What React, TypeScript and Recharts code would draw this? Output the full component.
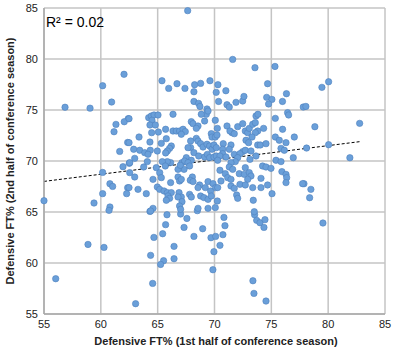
import { ScatterChart, Scatter, XAxis, YAxis, CartesianGrid, ReferenceLine, Label } from "recharts";

// Defensive FT% pairs: [1st half, 2nd half]
const upperPoints: [number, number][] = [
    [62.04, 78.5], [60.16, 77.38], [60.95, 75.78], [56.85, 75.27], [59.05, 75.18],
    [67.64, 84.74], [65.38, 77.87], [65.97, 77.12], [66.7, 77.58], [67.4, 77.12], [68.25, 77.48], [68.78, 77.61],
    [68.19, 76.79], [69.6, 77.87], [70.3, 77.48], [70.15, 76.73], [68.19, 75.84], [68.6, 75.65], [68.72, 75.35], [69.34, 75.1],
    [71.6, 79.96], [73.56, 79.15], [75.32, 79.27], [71.0, 76.89], [74.67, 77.58], [70.36, 75.84], [71.1, 75.52], [71.3, 75.29],
    [71.89, 75.75], [72.48, 75.88], [72.59, 76.33], [74.59, 76.24], [75.05, 76.04], [74.76, 75.59], [76.33, 76.6], [75.98, 75.84],
    [77.81, 75.29], [80.04, 77.77], [79.45, 77.22], [78.04, 75.35],
];

const leftPoints: [number, number][] = [
    [62.41, 74.15], [62.06, 73.85], [61.33, 73.59], [61.16, 72.87], [62.36, 71.82], [61.66, 70.94], [61.95, 69.44], [62.5, 69.77],
    [60.16, 68.88], [60.8, 67.77], [61.04, 67.51], [62.36, 67.38], [62.27, 66.8], [60.16, 66.8], [55.0, 66.11], [59.4, 65.88],
    [60.8, 65.49], [60.72, 65.16], [58.87, 61.82], [60.28, 61.53], [56.03, 58.46],
];

const lowerPoints: [number, number][] = [
    [64.32, 65.06], [65.82, 64.73], [67.02, 64.8], [67.57, 64.37], [68.49, 65.13], [65.7, 63.76], [67.32, 63.49], [68.96, 63.36],
    [68.19, 62.61], [69.69, 62.48], [70.1, 62.61], [64.67, 62.51], [65.44, 62.87], [66.44, 61.63], [69.95, 61.11], [64.38, 60.75],
    [65.52, 60.23], [65.26, 59.86], [66.44, 60.42], [69.86, 59.34], [64.56, 58.0], [63.06, 56.01],
    [70.83, 64.47], [70.92, 63.66], [70.74, 62.78], [70.48, 61.73], [73.53, 64.73], [73.71, 64.18], [74.0, 63.95], [74.44, 64.25],
    [74.35, 63.49], [73.38, 58.26], [73.47, 57.02], [74.53, 56.27], [79.54, 63.92],
];

const rightPoints: [number, number][] = [
    [78.83, 73.36], [82.77, 73.69], [78.1, 71.27], [80.04, 71.6], [81.91, 70.32], [77.87, 67.77], [78.48, 67.22], [78.37, 66.4],
];

const centerLeftPoints: [number, number][] = [
    [62.48, 74.15], [64.21, 74.25], [64.44, 74.41], [64.68, 74.51], [65.03, 74.51], [64.5, 73.99], [64.32, 73.53], [64.79, 73.53],
    [66.35, 74.58], [65.7, 73.11], [65.06, 72.84], [64.47, 72.78], [66.35, 72.94], [66.64, 72.94], [66.93, 72.94], [67.23, 73.11],
    [67.43, 72.88], [67.08, 72.62], [67.96, 73.86], [68.11, 73.66], [68.55, 73.43], [68.4, 73.2], [69.13, 73.92], [69.28, 74.58],
    [69.43, 74.9], [68.84, 74.58], [70.07, 73.99], [69.72, 72.68], [69.78, 72.35], [70.07, 72.35], [70.25, 73.2],
    [63.36, 72.35], [62.48, 71.8], [64.32, 71.86], [65.32, 71.73], [65.76, 72.19], [66.2, 71.47], [66.05, 71.24], [65.85, 70.98],
    [65.7, 70.79], [62.89, 71.15], [63.42, 71.05], [63.86, 70.82], [64.35, 71.05], [64.97, 70.98], [64.15, 70.66], [62.98, 70.26],
    [62.54, 69.84], [67.9, 71.96], [67.9, 71.31], [68.4, 72.22], [68.55, 71.96], [68.78, 71.7], [68.99, 71.37], [69.34, 71.64],
    [69.57, 71.47], [69.78, 71.15], [69.95, 71.57], [70.16, 71.31], [68.19, 70.82], [68.61, 70.49], [69.13, 70.39], [69.37, 70.65],
    [69.57, 70.33], [69.95, 70.39], [70.16, 70.49], [67.67, 71.31], [67.52, 70.33], [67.14, 69.84], [67.37, 70.0], [67.96, 70.07],
    [67.67, 69.84], [67.81, 69.51], [67.32, 69.18], [66.79, 69.18], [66.99, 69.58], [66.14, 69.84], [65.85, 69.94], [65.41, 69.94],
    [65.67, 69.51], [64.88, 69.35], [65.18, 68.86], [65.32, 68.37], [64.59, 68.2], [64.09, 69.94], [63.77, 69.41], [62.98, 68.43],
    [62.54, 68.86], [63.27, 67.22], [64.0, 66.8], [62.48, 67.39],
    [66.14, 67.88], [66.79, 68.43], [66.93, 68.04], [67.08, 68.2], [68.05, 68.43], [67.87, 68.11], [68.11, 67.98], [68.69, 67.65],
    [68.55, 67.39], [69.43, 67.98], [69.19, 67.39], [69.66, 67.06], [69.87, 67.78], [70.1, 67.39], [64.97, 67.45], [65.18, 67.22],
    [65.56, 67.06], [65.85, 66.9], [66.2, 66.9], [65.91, 66.57], [66.05, 66.34], [65.76, 66.15], [66.88, 66.9], [67.08, 66.47],
    [66.79, 66.47], [67.81, 66.73], [67.96, 66.47], [67.14, 66.01], [66.93, 65.59], [67.02, 65.26], [68.78, 66.57], [69.07, 66.41],
    [69.43, 66.24], [69.72, 66.57], [70.25, 66.08], [68.55, 65.36], [69.43, 65.36], [70.07, 65.43], [64.59, 65.36], [64.38, 65.1],
];

const centerRightPoints: [number, number][] = [
    [73.65, 74.41], [73.82, 74.58], [71.1, 73.43], [71.54, 72.78], [71.36, 72.94], [71.74, 72.68], [72.04, 73.37], [72.48, 73.66],
    [72.71, 72.94], [72.92, 72.78], [73.06, 73.2], [73.36, 73.6], [73.59, 73.76], [73.8, 72.94], [73.59, 72.78], [74.32, 73.2],
    [73.3, 72.35], [72.77, 72.03], [73.0, 71.8], [73.8, 71.57], [74.03, 71.57], [74.53, 71.7], [70.77, 71.7], [70.72, 71.15],
    [71.45, 71.57], [70.22, 72.55], [71.3, 71.15], [71.74, 70.65], [72.48, 70.92], [72.24, 70.72], [72.71, 71.05], [73.21, 70.98],
    [73.65, 70.49], [73.12, 70.16], [70.72, 70.72], [70.48, 70.49], [70.28, 70.07], [71.01, 70.39], [72.04, 70.33], [71.83, 69.94],
    [71.45, 69.84], [70.48, 69.09], [71.3, 69.41], [71.6, 69.18], [72.71, 69.35], [72.18, 68.76], [72.62, 68.69], [73.06, 68.86],
    [73.21, 68.53], [72.92, 68.2], [70.95, 68.76], [71.16, 68.37], [71.45, 68.2], [70.57, 68.04], [70.28, 67.39], [71.45, 67.55],
    [71.74, 67.32], [72.24, 67.71], [72.71, 67.65], [73.36, 67.39], [74.09, 67.39], [74.09, 68.3], [74.67, 67.65], [74.23, 69.51],
    [74.53, 69.41], [74.97, 69.28], [75.35, 74.18], [75.99, 73.11], [76.43, 74.74], [76.52, 74.51], [77.02, 72.35], [75.35, 72.35],
    [75.7, 72.03], [76.29, 71.8], [75.85, 71.24], [76.14, 71.05], [75.41, 70.07], [75.85, 69.94], [76.93, 70.33], [75.93, 68.96],
    [76.29, 68.69], [76.35, 68.37], [76.29, 67.88], [77.75, 67.78], [75.06, 66.8], [73.41, 66.15], [71.95, 66.67], [72.04, 66.34],
    [73.5, 65.03],
];

const axisTicks = [55, 60, 65, 70, 75, 80, 85];

// linear trendline end points as drawn in the reference
const trendX = [55, 82.8];
const trendY = [68.0, 71.9];
const rSquared = "0.02";

const FONT = "'Liberation Sans', Arial, sans-serif";
const GRID = "#C4C4C4";

const points = [
    ...upperPoints,
    ...leftPoints,
    ...lowerPoints,
    ...rightPoints,
    ...centerLeftPoints,
    ...centerRightPoints,
].map(([x, y]) => ({ x, y }));

function Dot(props: any) {
    const { cx, cy } = props;
    return <circle cx={cx} cy={cy} r={3.2} fill="#6A9FD9" stroke="#4F81BD" strokeWidth={0.6} />;
}

export default function App() {
    return (
        <div style={{ position: "absolute", left: 0, top: 0, width: 393, height: 348, background: "#fff" }}>
            <ScatterChart width={393} height={348} margin={{ top: 8, right: 8, left: 0, bottom: 0 }}>
                <CartesianGrid stroke={GRID} strokeWidth={1.5} />
                <XAxis
                    type="number"
                    dataKey="x"
                    domain={[55, 85]}
                    ticks={axisTicks}
                    height={34}
                    tickLine={false}
                    tickSize={4}
                    tickMargin={2}
                    axisLine={{ stroke: "#A8A8A8", strokeWidth: 1.5 }}
                    tick={{ fill: "#222", fontSize: 11, fontFamily: FONT }}
                >
                    <Label
                        content={() => (
                            <text x={216} y={345} textAnchor="middle" fontFamily={FONT} fontSize={11} fontWeight="bold" fill="#222">
                                Defensive FT% (1st half of conference season)
                            </text>
                        )}
                    />
                </XAxis>
                <YAxis
                    type="number"
                    dataKey="y"
                    domain={[55, 85]}
                    ticks={axisTicks}
                    width={44}
                    tickLine={false}
                    tickSize={4}
                    tickMargin={2}
                    axisLine={{ stroke: "#A8A8A8", strokeWidth: 1.5 }}
                    tick={{ fill: "#222", fontSize: 11, fontFamily: FONT }}
                >
                    <Label
                        content={() => (
                            <text
                                x={14}
                                y={161}
                                transform="rotate(-90 14 161)"
                                textAnchor="middle"
                                fontFamily={FONT}
                                fontSize={11}
                                fontWeight="bold"
                                fill="#222"
                            >
                                Defensive FT% (2nd half of conference season)
                            </text>
                        )}
                    />
                </YAxis>
                <ReferenceLine
                    segment={[
                        { x: trendX[0], y: trendY[0] },
                        { x: trendX[1], y: trendY[1] },
                    ]}
                    stroke="#000"
                    strokeWidth={1}
                    strokeDasharray="3 2"
                />
                <Scatter data={points} shape={<Dot />} isAnimationActive={false} />
            </ScatterChart>
            <div
                style={{
                    position: "absolute",
                    left: 46,
                    top: 14,
                    fontFamily: FONT,
                    fontSize: 14,
                    color: "#000",
                    lineHeight: "16px",
                }}
            >
                R² = {rSquared}
            </div>
        </div>
    );
}
